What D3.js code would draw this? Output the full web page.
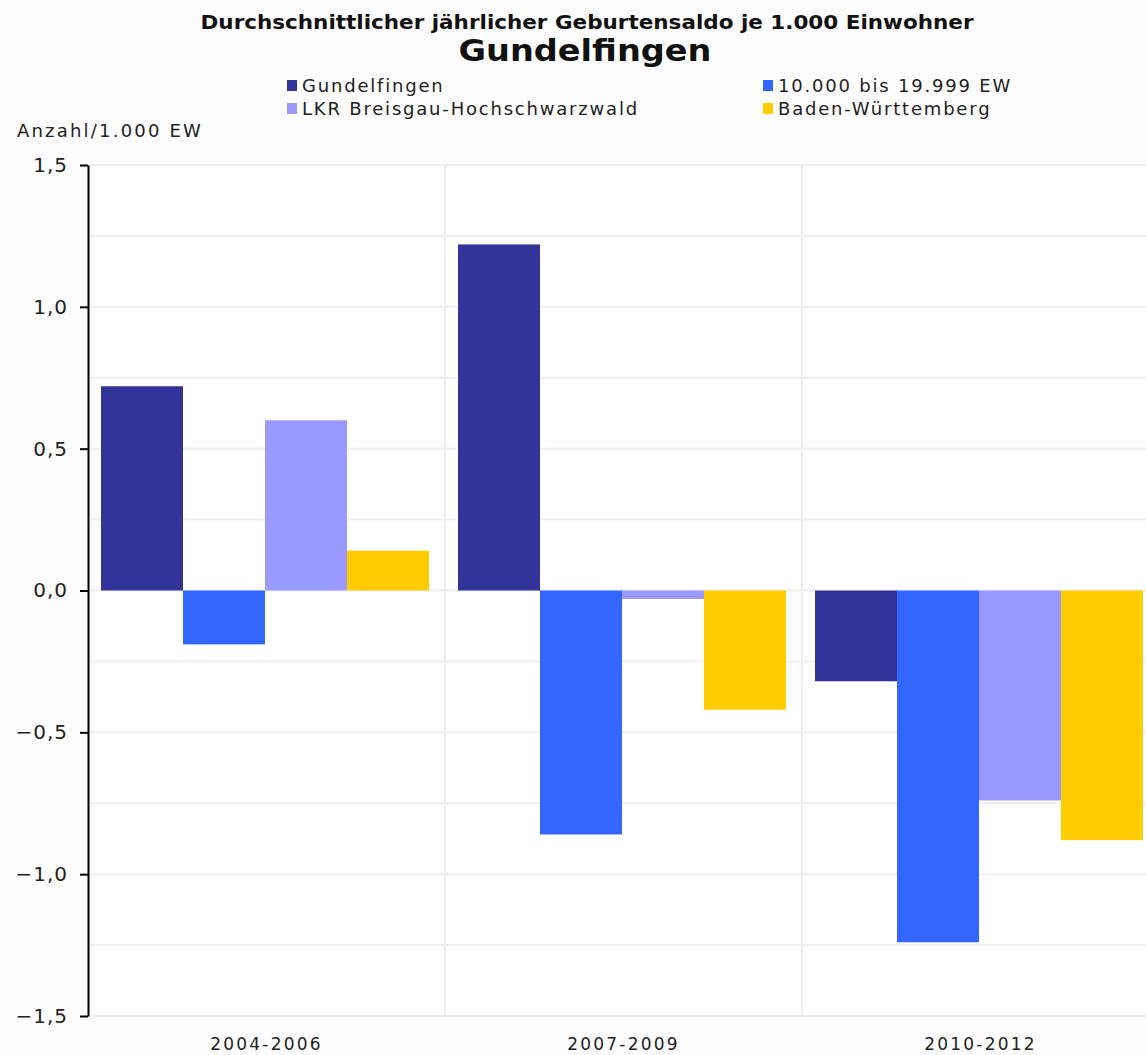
<!DOCTYPE html>
<meta charset="utf-8">
<head>
    <style>
        body, html {
            margin: 0;
            background: #fdfdfd;
            font-family: "DejaVu Sans", Verdana, sans-serif;
        }
        svg { display: block; }
    </style>
    <script src="https://cdn.jsdelivr.net/npm/d3@7"></script>
</head>
<body>
<div id="chart"></div>
<script>
    var periods = ["2004-2006", "2007-2009", "2010-2012"];
    var seriesNames = ["Gundelfingen", "10.000 bis 19.999 EW", "LKR Breisgau-Hochschwarzwald", "Baden-Württemberg"];
    var seriesColors = ["#333399", "#3366ff", "#9999ff", "#ffcc00"];
    var gundelfingen = [0.72, 1.22, -0.32];
    var groesse10000 = [-0.19, -0.86, -1.24];
    var lkr = [0.60, -0.03, -0.74];
    var bw = [0.14, -0.42, -0.88];
    var yTicks = [-1.5, -1.0, -0.5, 0, 0.5, 1.0, 1.5];
    var yGrid = [-1.5, -1.25, -1.0, -0.75, -0.5, -0.25, 0, 0.25, 0.5, 0.75, 1.0, 1.25, 1.5];

    var series = [gundelfingen, groesse10000, lkr, bw];

    (function draw() {
        var width = 1146, height = 1055;
        var mLeft = 88, mTop = 165, mBottom = 1016, mRight = 1159;

        var svg = d3.select("#chart").append("svg")
            .attr("width", width)
            .attr("height", height);

        // titles
        svg.append("text")
            .attr("x", 587).attr("y", 29)
            .attr("text-anchor", "middle")
            .attr("textLength", 773)
            .attr("lengthAdjust", "spacingAndGlyphs")
            .style("font-weight", "bold")
            .style("font-size", "19px")
            .attr("fill", "#111")
            .text("Durchschnittlicher jährlicher Geburtensaldo je 1.000 Einwohner");
        svg.append("text")
            .attr("x", 585).attr("y", 61)
            .attr("text-anchor", "middle")
            .attr("textLength", 253)
            .attr("lengthAdjust", "spacingAndGlyphs")
            .style("font-weight", "bold")
            .style("font-size", "31px")
            .attr("fill", "#111")
            .text("Gundelfingen");

        // legend
        var legendPos = [[287, 92], [763, 92], [287, 115], [763, 115]];
        var legend = svg.append("g").selectAll("g")
            .data(seriesNames)
            .enter().append("g")
            .attr("transform", function(d, i){ return "translate(" + legendPos[i][0] + "," + legendPos[i][1] + ")"; });
        legend.append("rect")
            .attr("x", 0).attr("y", -12)
            .attr("width", 10).attr("height", 11)
            .attr("fill", function(d, i){ return seriesColors[i]; });
        legend.append("text")
            .attr("x", 15).attr("y", 0)
            .style("font-size", "18px")
            .style("letter-spacing", "1.8px")
            .attr("fill", "#222")
            .text(function(d){ return d; });

        svg.append("text")
            .attr("x", 17).attr("y", 137)
            .style("font-size", "18px")
            .style("letter-spacing", "2.2px")
            .attr("fill", "#222")
            .text("Anzahl/1.000 EW");

        var x0 = d3.scaleBand().domain(periods).range([mLeft, mRight]);
        var x1 = d3.scaleBand().domain(d3.range(series.length)).range([13, x0.bandwidth() - 16]);
        var y = d3.scaleLinear().domain([-1.5, 1.5]).range([mBottom, mTop]);

        // plot background + grid
        svg.append("rect")
            .attr("x", mLeft).attr("y", mTop)
            .attr("width", mRight - mLeft).attr("height", mBottom - mTop)
            .attr("fill", "#fefefe");
        svg.append("g").selectAll("line")
            .data(yGrid)
            .enter().append("line")
            .attr("x1", mLeft).attr("x2", mRight)
            .attr("y1", function(d){ return y(d); })
            .attr("y2", function(d){ return y(d); })
            .attr("stroke", "#eeeeee")
            .attr("stroke-width", 2);
        svg.append("g").selectAll("line")
            .data(periods.slice(1))
            .enter().append("line")
            .attr("x1", function(d){ return x0(d); })
            .attr("x2", function(d){ return x0(d); })
            .attr("y1", mTop).attr("y2", mBottom)
            .attr("stroke", "#eeeeee")
            .attr("stroke-width", 2);

        // bars
        var groups = svg.append("g").selectAll("g")
            .data(periods)
            .enter().append("g")
            .attr("transform", function(d){ return "translate(" + x0(d) + ",0)"; });
        groups.selectAll("rect")
            .data(function(d, pi){ return series.map(function(s, si){ return {s: si, v: s[pi]}; }); })
            .enter().append("rect")
            .attr("x", function(d){ return x1(d.s); })
            .attr("width", x1.bandwidth())
            .attr("y", function(d){ return y(Math.max(0, d.v)); })
            .attr("height", function(d){ return Math.abs(y(d.v) - y(0)); })
            .attr("fill", function(d){ return seriesColors[d.s]; });

        // axes
        var fmt = function(d){ return d3.format(".1f")(d).replace(".", ","); };
        var yAxis = svg.append("g")
            .attr("transform", "translate(" + mLeft + ",0)")
            .call(d3.axisLeft(y).tickValues(yTicks).tickFormat(fmt).tickSize(8).tickPadding(12).tickSizeOuter(0));
        yAxis.select(".domain").attr("stroke", "#000").attr("stroke-width", 2);
        yAxis.selectAll(".tick line").attr("stroke", "#000").attr("stroke-width", 2);
        yAxis.selectAll(".tick text")
            .attr("fill", "#222")
            .style("font-size", "20px")
            .style("letter-spacing", "1px")
            .style("font-family", "'DejaVu Sans', sans-serif");

        var xAxis = svg.append("g")
            .attr("transform", "translate(0," + mBottom + ")")
            .call(d3.axisBottom(x0).tickSize(0).tickPadding(22));
        xAxis.select(".domain").remove();
        xAxis.selectAll(".tick text")
            .attr("fill", "#222")
            .style("font-size", "17px")
            .style("letter-spacing", "2.2px")
            .style("font-family", "'DejaVu Sans', sans-serif");
    })();
</script>
</body>
